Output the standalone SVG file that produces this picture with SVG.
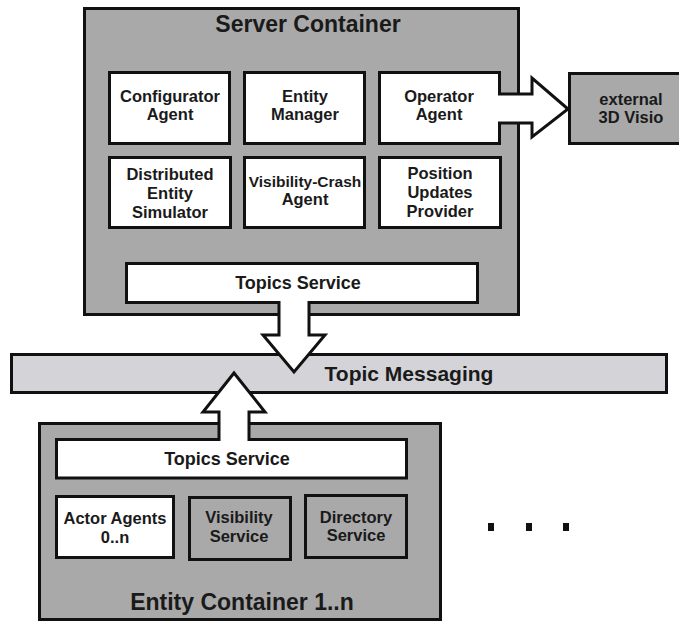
<svg xmlns="http://www.w3.org/2000/svg" width="679" height="623" viewBox="0 0 679 623">
<style>
.c{fill:#a9a9a9;stroke:#111;stroke-width:3}
.w{fill:#fff;stroke:#111;stroke-width:3}
.g{fill:#a9a9a9;stroke:#111;stroke-width:3}
.bar{fill:#d4d4d8;stroke:#111;stroke-width:3}
text{font-family:"Liberation Sans",Arial,sans-serif;font-weight:bold;fill:#1a1a1a;text-anchor:middle}
.t{font-size:23px}
.l{font-size:16.5px}
.s{font-size:18px}
</style>
<rect width="679" height="623" fill="#fff"/>
<g id="server-container">
<rect class="c" x="84.5" y="8.5" width="434" height="306"/>
<text class="t" x="308" y="32">Server Container</text>
</g>
<g id="external-3d-visio">
<rect class="g" x="569.5" y="73.5" width="120" height="70"/>
<text class="l" x="631" y="105">external</text>
<text class="l" x="631" y="123">3D Visio</text>
</g>
<g id="configurator-agent">
<rect class="w" x="109.5" y="72.5" width="120" height="71"/>
<text class="l" x="170" y="102">Configurator</text>
<text class="l" x="170" y="120">Agent</text>
</g>
<g id="entity-manager">
<rect class="w" x="244.5" y="72.5" width="120" height="71"/>
<text class="l" x="305" y="102">Entity</text>
<text class="l" x="305" y="120">Manager</text>
</g>
<g id="distributed-entity-simulator">
<rect class="w" x="109.5" y="157.5" width="121" height="70"/>
<text class="l" x="170" y="180">Distributed</text>
<text class="l" x="170" y="199">Entity</text>
<text class="l" x="170" y="218">Simulator</text>
</g>
<g id="visibility-crash-agent">
<rect class="w" x="244.5" y="157.5" width="120" height="70"/>
<text x="305" y="187" style="font-size:15.5px">Visibility-Crash</text>
<text class="l" x="305" y="205">Agent</text>
</g>
<g id="position-updates-provider">
<rect class="w" x="379.5" y="157.5" width="121" height="70"/>
<text class="l" x="440" y="179">Position</text>
<text class="l" x="440" y="198">Updates</text>
<text class="l" x="440" y="217">Provider</text>
</g>
<g id="topic-messaging">
<rect class="bar" x="11.5" y="354.5" width="655" height="38"/>
<text x="409" y="381" style="font-size:21px">Topic Messaging</text>
</g>
<g id="entity-container">
<rect class="c" x="39.5" y="423.5" width="401" height="196"/>
<text class="t" x="242" y="610">Entity Container 1..n</text>
</g>
<g id="actor-agents">
<rect class="w" x="56.5" y="496.5" width="117" height="61"/>
<text class="l" x="115" y="524">Actor Agents</text>
<text class="l" x="115" y="543">0..n</text>
</g>
<g id="visibility-service">
<rect class="g" x="189.5" y="497.5" width="101" height="62"/>
<text class="l" x="239" y="523">Visibility</text>
<text class="l" x="239" y="542">Service</text>
</g>
<g id="directory-service">
<rect class="g" x="305.5" y="495.5" width="101" height="62"/>
<text class="l" x="356" y="523">Directory</text>
<text class="l" x="356" y="541">Service</text>
</g>
<g id="connectors">
<g id="operator-agent">
<path class="w" d="M379.5,72.5 H499.5 V94 H532 V78 L568,109 L532,137 V123 H499.5 V143.5 H379.5 Z"/>
<text class="l" x="439" y="102">Operator</text>
<text class="l" x="439" y="120">Agent</text>
</g>
<g id="server-topics-service">
<path class="w" d="M126.5,263.5 H477.5 V302.5 H309 V335 H325 L294,372 L263,335 H279 V302.5 H126.5 Z"/>
<text class="s" x="298" y="289">Topics Service</text>
</g>
<g id="entity-topics-service">
<path class="w" d="M56.5,439.5 H219 V412 H203 L234,373 L265,412 H249 V439.5 H406.5 V478 H56.5 Z"/>
<text class="s" x="227" y="465">Topics Service</text>
</g>
</g>
<g id="dots" fill="#111">
<rect x="488" y="523" width="6" height="8"/>
<rect x="526" y="523" width="6" height="8"/>
<rect x="563" y="523" width="6" height="8"/>
</g>
</svg>
